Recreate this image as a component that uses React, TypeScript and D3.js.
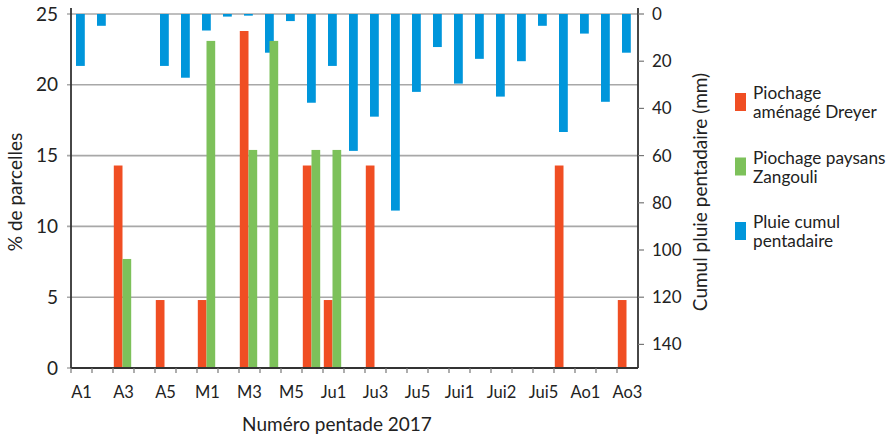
import * as d3 from "d3"
import { useEffect } from "react"

// pentades (27), tick labels shown every other pentade
const pentades = [
  "A1", "A2", "A3", "A4", "A5", "A6",
  "M1", "M2", "M3", "M4", "M5", "M6",
  "Ju1", "Ju2", "Ju3", "Ju4", "Ju5", "Ju6",
  "Jui1", "Jui2", "Jui3", "Jui4", "Jui5", "Jui6",
  "Ao1", "Ao2", "Ao3",
]
const tickLabels = ["A1", "A3", "A5", "M1", "M3", "M5", "Ju1", "Ju3", "Ju5", "Jui1", "Jui2", "Jui5", "Ao1", "Ao3"]

// % de parcelles
const dreyer = [0, 0, 14.3, 0, 4.8, 0, 4.8, 0, 23.8, 0, 0, 14.3, 4.8, 0, 14.3, 0, 0, 0, 0, 0, 0, 0, 0, 14.3, 0, 0, 4.8]
const zangouli = [0, 0, 7.7, 0, 0, 0, 23.1, 0, 15.4, 23.1, 0, 15.4, 15.4, 0, 0, 0, 0, 0, 0, 0, 0, 0, 0, 0, 0, 0, 0]
// cumul pluie pentadaire (mm)
const pluie = [22, 5, 0, 0, 22, 27, 7, 1.1, 0.7, 16.4, 3, 37.6, 22, 58, 43.5, 83.3, 33, 14, 29.5, 19, 35, 20, 5, 50, 8.3, 37.2, 16.4]

const leftTicks = [0, 5, 10, 15, 20, 25]
const rightTicks = [0, 20, 40, 60, 80, 100, 120, 140]

const legend = [
  { color: "#f04e23", lines: ["Piochage", "aménagé Dreyer"] },
  { color: "#7dc15a", lines: ["Piochage paysans", "Zangouli"] },
  { color: "#0096db", lines: ["Pluie cumul", "pentadaire"] },
]

const font = "Lato, 'Open Sans', sans-serif"

export default function App() {
  useEffect(() => {
    document.body.style.margin = "0"
  }, [])

  const left = 71, right = 638, top = 14, bottom = 368

  const x = d3.scaleBand().domain(pentades).range([left, right]).padding(0)
  const x1 = d3.scaleBand().domain(["dreyer", "zangouli"]).range([0.8, 18.2]).padding(0)
  const y = d3.scaleLinear().domain([0, 25]).range([bottom, top])
  const y2 = d3.scaleLinear().domain([0, 150]).range([top, bottom])

  return (
    <svg width={895} height={439} style={{ display: "block", fontFamily: font }}>
      <rect width={895} height={439} fill="#fff" />
      {/* grid */}
      {leftTicks.map(t => (
        <line key={t} x1={left - 4} x2={right} y1={y(t)} y2={y(t)} stroke="#a8a8a8" strokeWidth={1.6} />
      ))}
      {/* rain bars */}
      {pluie.map((v, i) => v > 0 && (
        <rect key={"p" + i} x={x(pentades[i])! + 5} y={y2(0)} width={8.8} height={y2(v) - y2(0)} fill="#0096db" />
      ))}
      {dreyer.map((v, i) => v > 0 && (
        <rect key={"d" + i} x={x(pentades[i])! + x1("dreyer")!} y={y(v)} width={x1.bandwidth()} height={y(0) - y(v)} fill="#f04e23" />
      ))}
      {zangouli.map((v, i) => v > 0 && (
        <rect key={"z" + i} x={x(pentades[i])! + x1("zangouli")!} y={y(v)} width={x1.bandwidth()} height={y(0) - y(v)} fill="#7dc15a" />
      ))}
      {/* axes */}
      <line x1={left} x2={left} y1={8} y2={bottom} stroke="#333" strokeWidth={1.8} />
      <line x1={right} x2={right} y1={8} y2={bottom} stroke="#333" strokeWidth={1.8} />
      <line x1={left} x2={right} y1={bottom} y2={bottom} stroke="#333" strokeWidth={1.8} />
      {pentades.map(p => (
        <line key={p} x1={x(p)!} x2={x(p)!} y1={bottom} y2={bottom + 5} stroke="#777" strokeWidth={1.2} />
      ))}
      {leftTicks.map(t => (
        <text key={t} x={58} y={y(t)} dy="0.35em" textAnchor="end" fontSize={19} fill="#222">{t}</text>
      ))}
      {rightTicks.map(t => (
        <g key={t}>
          <line x1={right} x2={right + 6} y1={y2(t)} y2={y2(t)} stroke="#777" strokeWidth={1.2} />
          <text x={652} y={y2(t)} dy="0.35em" fontSize={17} fill="#222">{t}</text>
        </g>
      ))}
      {tickLabels.map((t, i) => (
        <text key={t} x={x(pentades[i * 2])! + x.bandwidth() / 2} y={398} textAnchor="middle" fontSize={16.5} fill="#222">{t}</text>
      ))}
      {/* titles */}
      <text x={337} y={431} textAnchor="middle" fontSize={19} fill="#222">Numéro pentade 2017</text>
      <text transform="translate(22,192) rotate(-90)" textAnchor="middle" fontSize={19} fill="#222">% de parcelles</text>
      <text transform="translate(707,192) rotate(-90)" textAnchor="middle" fontSize={19} fill="#222">Cumul pluie pentadaire (mm)</text>
      {/* legend */}
      {legend.map((l, i) => (
        <g key={i} transform={`translate(735,${93 + i * 64.5})`}>
          <rect width={11} height={18} fill={l.color} />
          {l.lines.map((s, j) => (
            <text key={j} x={18} y={6 + j * 19} fontSize={17.2} fill="#222">{s}</text>
          ))}
        </g>
      ))}
    </svg>
  )
}
